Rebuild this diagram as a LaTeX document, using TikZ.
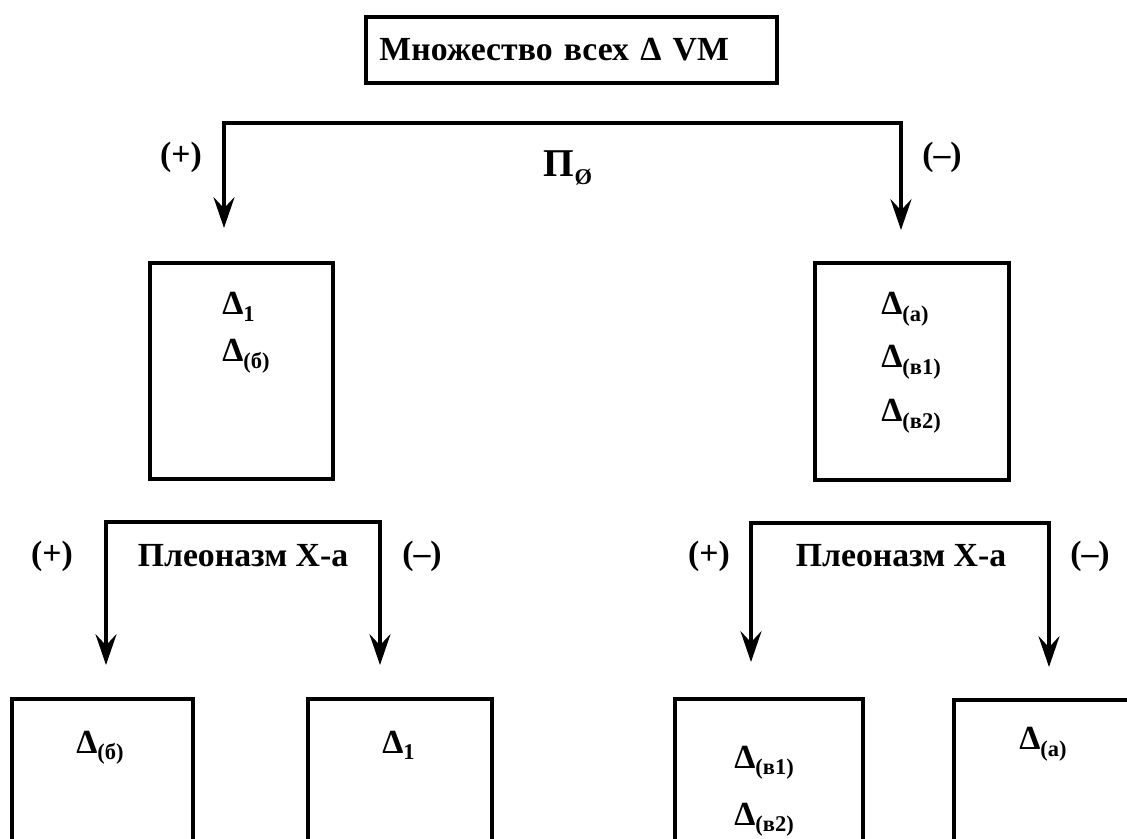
\documentclass[tikz,border=0pt]{standalone}
\usepackage{fontspec}
\setmainfont{Liberation Serif}
\usetikzlibrary{arrows.meta,positioning}

\newcommand{\lowidx}[1]{\raisebox{-0.4ex}{\fontsize{16}{16}\selectfont #1}}

\tikzset{
  box/.style={draw, rectangle, line width=2.5pt, inner sep=0pt},
  txt/.style={font=\fontsize{24}{28}\selectfont\bfseries, inner sep=0pt},
  arr/.style={line width=2.5pt,
    {Stealth[length=22pt,width=15pt,inset=8pt]}-{Stealth[length=22pt,width=15pt,inset=8pt]}},
}

\begin{document}
\begin{tikzpicture}[x=0.025cm, y=-0.025cm]
  \useasboundingbox (0,0) rectangle (1127,839);
  \clip (0,0) rectangle (1127,839);

  % boxes
  \node (root) [box, txt, text width=9.6cm, inner xsep=0.3375cm, minimum height=1.65cm, align=left] at (571.5,50) {Множество всех Δ VM};
  \node (lbox) [box, minimum width=4.575cm, minimum height=5.4cm] at (241.5,371) {};
  \node (rbox) [box, minimum width=4.85cm, minimum height=5.425cm] at (912,371.5) {};
  \node (b1) [box, minimum width=4.525cm, minimum height=5cm, anchor=north] at (102.5,697) {};
  \node (b2) [box, minimum width=4.6cm, minimum height=5cm, anchor=north] at (400,697) {};
  \node (b3) [box, minimum width=4.7cm, minimum height=5cm, anchor=north] at (769,697) {};
  \node (b4) [box, minimum width=4.65cm, minimum height=5cm, anchor=north] at (1047,698) {};

  % contents
  \node (l1) [txt, anchor=base west] at (222,315) {Δ\lowidx{1}};
  \node (l2) [txt, anchor=base west] at (222,362) {Δ\lowidx{(б)}};
  \node (r1) [txt, anchor=base west] at (881,315) {Δ\lowidx{(а)}};
  \node (r2) [txt, anchor=base west] at (881,368) {Δ\lowidx{(в1)}};
  \node (r3) [txt, anchor=base west] at (881,422) {Δ\lowidx{(в2)}};
  \node (b1a) [txt, anchor=base west] at (76,753) {Δ\lowidx{(б)}};
  \node (b2a) [txt, anchor=base west] at (382,753) {Δ\lowidx{1}};
  \node (b3a) [txt, anchor=base west] at (734,768) {Δ\lowidx{(в1)}};
  \node (b3b) [txt, anchor=base west] at (734,825) {Δ\lowidx{(в2)}};
  \node (b4a) [txt, anchor=base west] at (1019,750) {Δ\lowidx{(а)}};

  % brackets
  \coordinate (tpl) at (224,228);
  \coordinate (tl) at (224,123);
  \coordinate (tr) at (901,123);
  \coordinate (tpr) at (901,230);
  \draw[arr] (tpl) -- (tl) -- (tr) -- (tpr);
  \node (tplus) [txt] at (181,157) {(+)};
  \node (tpi) [txt] at (568,168) {\fontsize{28}{30}\selectfont Π\lowidx{Ø}};
  \node (tminus) [txt] at (942,157) {(–)};

  \coordinate (lpl) at (106,665);
  \coordinate (ll) at (106,522);
  \coordinate (lr) at (380,522);
  \coordinate (lpr) at (380,665);
  \draw[arr] (lpl) -- (ll) -- (lr) -- (lpr);
  \node (lplus) [txt] at (52,556) {(+)};
  \node (lname) [txt] at (243,556) {Плеоназм Х-а};
  \node (lminus) [txt] at (422,556) {(–)};

  \coordinate (rpl) at (751,662);
  \coordinate (rl) at (751,523);
  \coordinate (rr) at (1049,523);
  \coordinate (rpr) at (1049,667);
  \draw[arr] (rpl) -- (rl) -- (rr) -- (rpr);
  \node (rplus) [txt] at (709,556) {(+)};
  \node (rname) [txt] at (901,556) {Плеоназм Х-а};
  \node (rminus) [txt] at (1090,556) {(–)};
\end{tikzpicture}
\end{document}
